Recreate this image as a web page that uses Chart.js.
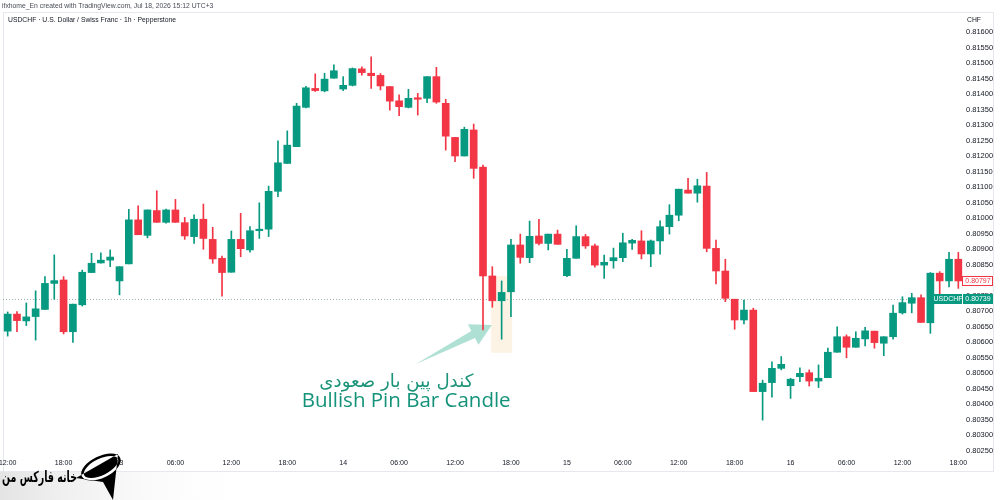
<!DOCTYPE html>
<html>
<head>
<meta charset="UTF-8">
<title>USDCHF 1h - Bullish Pin Bar</title>
<script src="https://cdn.jsdelivr.net/npm/chart.js"></script>
<style>
    html, body { margin: 0; padding: 0; background: #fff; }
    #wrap { width: 1000px; height: 500px; position: relative; }
</style>
</head>
<body>
<div id="wrap"><canvas id="chart"></canvas></div>
<script>
    // hourly candles
    const opens = [0.80635,0.80690,0.80668,0.80682,0.80705,0.80789,0.80800,0.80633,0.80720,0.80824,
        0.80855,0.80864,0.80797,0.80852,0.80994,0.80944,0.81024,0.80986,0.81026,0.80985,
        0.80940,0.80996,0.80931,0.80870,0.80825,0.80931,0.80897,0.80959,0.80964,0.81086,
        0.81176,0.81230,0.81357,0.81418,0.81410,0.81451,0.81416,0.81428,0.81481,0.81467,
        0.81460,0.81424,0.81378,0.81357,0.81387,0.81386,0.81456,0.81370,0.81260,0.81200,
        0.81284,0.81164,0.80813,0.80733,0.80762,0.80913,0.80872,0.80942,0.80918,0.80948,
        0.80814,0.80870,0.80940,0.80910,0.80848,0.80862,0.80872,0.80919,0.80926,0.80884,
        0.80926,0.80972,0.81009,0.81090,0.81080,0.81103,0.80902,0.80829,0.80738,0.80671,
        0.80703,0.80440,0.80469,0.80515,0.80459,0.80488,0.80501,0.80474,0.80485,0.80567,
        0.80617,0.80583,0.80610,0.80635,0.80596,0.80617,0.80694,0.80725,0.80743,0.80662,
        0.80822,0.80797,0.80867];
    const highs = [0.80697,0.80698,0.80726,0.80765,0.80811,0.80881,0.80811,0.80722,0.80832,0.80886,
        0.80888,0.80897,0.80843,0.81028,0.81039,0.81026,0.81088,0.81029,0.81060,0.81002,
        0.81010,0.81045,0.80970,0.80877,0.80958,0.81015,0.80972,0.81049,0.81103,0.81249,
        0.81281,0.81370,0.81425,0.81465,0.81467,0.81494,0.81456,0.81484,0.81488,0.81520,
        0.81466,0.81424,0.81397,0.81415,0.81402,0.81456,0.81486,0.81383,0.81260,0.81293,
        0.81303,0.81171,0.80843,0.80797,0.80931,0.80948,0.80990,0.80996,0.80948,0.80961,
        0.80899,0.80975,0.80947,0.80916,0.80880,0.80903,0.80951,0.80931,0.80959,0.80929,
        0.80991,0.81043,0.81093,0.81128,0.81125,0.81147,0.80929,0.80867,0.80738,0.80735,
        0.80709,0.80477,0.80536,0.80553,0.80483,0.80517,0.80510,0.80526,0.80580,0.80649,
        0.80623,0.80633,0.80647,0.80635,0.80617,0.80719,0.80746,0.80757,0.80752,0.80824,
        0.80827,0.80889,0.80889];
    const lows = [0.80619,0.80633,0.80653,0.80606,0.80705,0.80738,0.80626,0.80599,0.80716,0.80824,
        0.80854,0.80843,0.80752,0.80852,0.80946,0.80936,0.80986,0.80983,0.80986,0.80931,
        0.80918,0.80899,0.80854,0.80748,0.80825,0.80875,0.80890,0.80934,0.80940,0.81069,
        0.81176,0.81230,0.81355,0.81408,0.81407,0.81451,0.81411,0.81426,0.81461,0.81418,
        0.81413,0.81348,0.81330,0.81355,0.81332,0.81372,0.81370,0.81219,0.81182,0.81200,
        0.81128,0.80639,0.80712,0.80609,0.80682,0.80854,0.80856,0.80913,0.80897,0.80915,
        0.80811,0.80870,0.80902,0.80841,0.80805,0.80838,0.80859,0.80899,0.80868,0.80843,
        0.80883,0.80948,0.80991,0.81080,0.81051,0.80891,0.80787,0.80730,0.80641,0.80658,
        0.80440,0.80348,0.80422,0.80510,0.80418,0.80472,0.80458,0.80453,0.80485,0.80567,
        0.80549,0.80583,0.80587,0.80580,0.80556,0.80609,0.80690,0.80694,0.80663,0.80628,
        0.80741,0.80778,0.80773];
    const closes = [0.80690,0.80669,0.80681,0.80707,0.80789,0.80798,0.80633,0.80722,0.80825,0.80854,
        0.80864,0.80874,0.80843,0.80994,0.80946,0.81026,0.80986,0.81026,0.80986,0.80942,
        0.80996,0.80934,0.80868,0.80824,0.80931,0.80901,0.80959,0.80964,0.81086,0.81178,
        0.81235,0.81361,0.81420,0.81411,0.81448,0.81475,0.81428,0.81482,0.81469,0.81459,
        0.81426,0.81377,0.81359,0.81386,0.81383,0.81456,0.81374,0.81264,0.81200,0.81286,
        0.81160,0.80813,0.80733,0.80760,0.80913,0.80873,0.80941,0.80918,0.80948,0.80915,
        0.80870,0.80940,0.80910,0.80848,0.80857,0.80872,0.80920,0.80928,0.80884,0.80926,
        0.80972,0.81009,0.81093,0.81080,0.81104,0.80902,0.80829,0.80741,0.80671,0.80703,
        0.80440,0.80467,0.80515,0.80528,0.80480,0.80499,0.80474,0.80483,0.80567,0.80617,
        0.80583,0.80612,0.80636,0.80598,0.80617,0.80693,0.80727,0.80743,0.80663,0.80822,
        0.80797,0.80867,0.80797];

    // time axis: first candle is the 12:00 bar of the 12th
    const startDay = 12;
    const startHour = 12;
    const tickHours = [0, 6, 12, 18];
    const categories = opens.map((_, i) => {
        const t = startHour + i;
        const h = t % 24;
        return h === 0 ? String(startDay + Math.floor(t / 24)) : String(h).padStart(2, '0') + ':00';
    });

    // price axis
    const priceMin = 0.8023225;
    const priceMax = 0.8161935;
    const priceStep = 0.0005;

    // labels on the price scale
    const lastPrice = 0.80797;
    const refPrice = 0.80739;
    const symbol = 'USDCHF';

    // annotation
    const pinIndex = 53;
    const pinBoxTop = 0.80813;
    const pinBoxBottom = 0.80565;
    const arrowTail = [43.8, 0.80529];
    const arrowTip = [51.95, 0.80655];
    const titleFa = 'کندل پین بار صعودی';
    const titleEn = 'Bullish Pin Bar Candle';
    const brand = 'خانه فارکس من';

    const header1 = 'ifxhome_En created with TradingView.com, Jul 18, 2026 15:12 UTC+3';
    const header2 = 'USDCHF · U.S. Dollar / Swiss Franc · 1h · Pepperstone';

    const UP = '#089981';
    const DOWN = '#f23645';
    const candleColors = opens.map((o, i) => closes[i] >= o ? UP : DOWN);

    function fitFont(c, text, weight, family, width) {
        c.font = weight + ' 20px ' + family;
        const s = 20 * width / c.measureText(text).width;
        c.font = weight + ' ' + s.toFixed(2) + 'px ' + family;
        return s;
    }

    const framePlugin = {
        id: 'frame',
        beforeDraw(chart) {
            const c = chart.ctx;
            c.save();
            c.fillStyle = '#ffffff';
            c.fillRect(0, 0, chart.width, chart.height);
            const g = c.createLinearGradient(0, 0, 260, 0);
            g.addColorStop(0, 'rgba(228,228,228,1)');
            g.addColorStop(1, 'rgba(255,255,255,0)');
            c.fillStyle = g;
            c.fillRect(0, 472, 260, 28);

            c.strokeStyle = '#e6e8ee';
            c.lineWidth = 1;
            c.beginPath();
            c.moveTo(3, 12.5); c.lineTo(994, 12.5);
            c.moveTo(3.5, 12); c.lineTo(3.5, 471);
            c.moveTo(0, 471.5); c.lineTo(994, 471.5);
            c.moveTo(993.5, 12); c.lineTo(993.5, 471);
            c.stroke();

            c.textBaseline = 'middle';
            c.font = '6.8px "Liberation Sans", Arial, sans-serif';
            c.fillStyle = '#4a4d57';
            c.fillText(header1, 2, 6);
            c.fillStyle = '#131722';
            c.fillText(header2, 8, 20);
            c.fillText('CHF', 967, 20);
            c.restore();
        }
    };

    const notesPlugin = {
        id: 'notes',
        beforeDatasetsDraw(chart) {
            const c = chart.ctx;
            const x = chart.scales.x, y = chart.scales.y, a = chart.chartArea;
            c.save();
            // highlight around the pin bar
            const hx = x.getPixelForValue(pinIndex);
            const bt = y.getPixelForValue(pinBoxTop), bb = y.getPixelForValue(pinBoxBottom);
            c.fillStyle = 'rgba(252,234,205,0.55)';
            c.fillRect(hx - 10.5, bt, 21, bb - bt);

            // dotted reference line
            const ry = Math.round(y.getPixelForValue(refPrice)) + 0.5;
            c.strokeStyle = '#9fb3ae';
            c.lineWidth = 1;
            c.setLineDash([1, 2]);
            c.beginPath();
            c.moveTo(a.left, ry);
            c.lineTo(a.right, ry);
            c.stroke();
            c.setLineDash([]);

            // arrow
            const tx = x.getPixelForValue(arrowTail[0]), ty = y.getPixelForValue(arrowTail[1]);
            const px = x.getPixelForValue(arrowTip[0]), py = y.getPixelForValue(arrowTip[1]);
            const len = Math.hypot(px - tx, py - ty);
            const ux = (px - tx) / len, uy = (py - ty) / len;
            const nx = -uy, ny = ux;
            const bx = px - ux * 21, by = py - uy * 21;
            c.fillStyle = 'rgba(120,204,181,0.6)';
            c.beginPath();
            c.moveTo(tx, ty);
            c.lineTo(bx + nx * 4, by + ny * 4);
            c.lineTo(bx + nx * 11.5, by + ny * 11.5);
            c.lineTo(px, py);
            c.lineTo(bx - nx * 11.5, by - ny * 11.5);
            c.lineTo(bx - nx * 4, by - ny * 4);
            c.closePath();
            c.fill();
            c.restore();
        },
        afterDraw(chart) {
            const c = chart.ctx;
            const x = chart.scales.x, y = chart.scales.y, a = chart.chartArea;
            c.save();
            c.textBaseline = 'middle';
            c.textAlign = 'center';
            c.font = '7px "Liberation Sans", Arial, sans-serif';

            // last price box
            const ly = Math.round(y.getPixelForValue(lastPrice));
            c.fillStyle = '#ffffff';
            c.fillRect(a.right - 1, ly - 5, 31, 10);
            c.strokeStyle = DOWN;
            c.strokeRect(a.right - 0.5, ly - 4.5, 30, 9);
            c.fillStyle = DOWN;
            c.fillText(lastPrice.toFixed(5), a.right + 15, ly);

            // symbol + reference price box
            const gy = Math.round(y.getPixelForValue(refPrice));
            c.fillStyle = UP;
            c.fillRect(a.right - 30, gy - 5, 60, 10);
            c.strokeStyle = '#ffffff';
            c.beginPath();
            c.moveTo(a.right - 0.5, gy - 5); c.lineTo(a.right - 0.5, gy + 5);
            c.stroke();
            c.fillStyle = '#ffffff';
            c.fillText(symbol, a.right - 15, gy);
            c.fillText(refPrice.toFixed(5), a.right + 15, gy);

            // annotation text
            c.fillStyle = '#1c9479';
            fitFont(c, titleFa, 'normal', '"DejaVu Sans", sans-serif', 154);
            c.fillText(titleFa, x.getPixelForValue(41.7), y.getPixelForValue(0.80471));
            c.fillStyle = '#14937a';
            fitFont(c, titleEn, '500', '"Open Sans", sans-serif', 209);
            c.fillText(titleEn, x.getPixelForValue(42.76), y.getPixelForValue(0.80410));

            // logo watermark
            const plane = () => {
                c.beginPath();
                c.moveTo(76, 478);
                c.lineTo(118, 454);
                c.lineTo(113, 500);
                c.lineTo(103, 482);
                c.closePath();
            };
            c.fillStyle = '#000000';
            plane();
            c.fill();
            c.lineWidth = 2.5;
            c.strokeStyle = '#000000';
            c.beginPath();
            c.ellipse(101, 467, 20, 9.5, -0.45, 0, Math.PI * 2);
            c.stroke();
            c.save();
            plane();
            c.clip();
            c.strokeStyle = '#ffffff';
            c.beginPath();
            c.ellipse(101, 467, 20, 9.5, -0.45, 0, Math.PI * 2);
            c.stroke();
            c.restore();

            c.save();
            c.fillStyle = '#000000';
            c.textAlign = 'right';
            c.translate(77, 478);
            c.scale(1, 1.6);
            fitFont(c, brand, 'bold', '"DejaVu Sans", sans-serif', 75);
            c.fillText(brand, 0, 0);
            c.restore();
            c.restore();
        }
    };

    new Chart(document.getElementById('chart'), {
        type: 'bar',
        data: {
            labels: categories,
            datasets: [
                {
                    label: 'wick',
                    data: lows.map((l, i) => [l, highs[i]]),
                    backgroundColor: candleColors,
                    barThickness: 1,
                    grouped: false,
                    borderWidth: 0,
                    order: 2
                },
                {
                    label: 'body',
                    data: opens.map((o, i) => [o, closes[i]]),
                    backgroundColor: candleColors,
                    barThickness: 7,
                    minBarLength: 1.5,
                    grouped: false,
                    borderWidth: 0,
                    order: 1
                }
            ]
        },
        options: {
            responsive: true,
            maintainAspectRatio: false,
            animation: false,
            layout: { autoPadding: false, padding: { top: 26, left: 3, right: 0, bottom: 0 } },
            plugins: {
                legend: { display: false },
                tooltip: { enabled: false }
            },
            scales: {
                x: {
                    grid: { display: false, drawTicks: false },
                    border: { display: false },
                    afterFit(s) {
                        s.height = 44;
                        s.paddingLeft = 0;
                        s.paddingRight = 0;
                    },
                    ticks: {
                        autoSkip: false,
                        maxRotation: 0,
                        padding: 3,
                        color: '#131722',
                        font: { family: '"Liberation Sans", Arial, sans-serif', size: 7 },
                        callback(v, i) {
                            const t = startHour + i;
                            return tickHours.includes(t % 24) ? categories[i] : '';
                        }
                    }
                },
                y: {
                    position: 'right',
                    min: priceMin,
                    max: priceMax,
                    grid: { display: false, drawTicks: false },
                    border: { display: false },
                    afterFit(s) {
                        s.width = 37;
                        s.paddingTop = 0;
                        s.paddingBottom = 0;
                    },
                    ticks: {
                        stepSize: priceStep,
                        includeBounds: false,
                        padding: 3,
                        color: '#131722',
                        font: { family: '"Liberation Sans", Arial, sans-serif', size: 7.5 },
                        callback: v => Number(v).toFixed(5)
                    }
                }
            }
        },
        plugins: [framePlugin, notesPlugin]
    });
</script>
</body>
</html>
